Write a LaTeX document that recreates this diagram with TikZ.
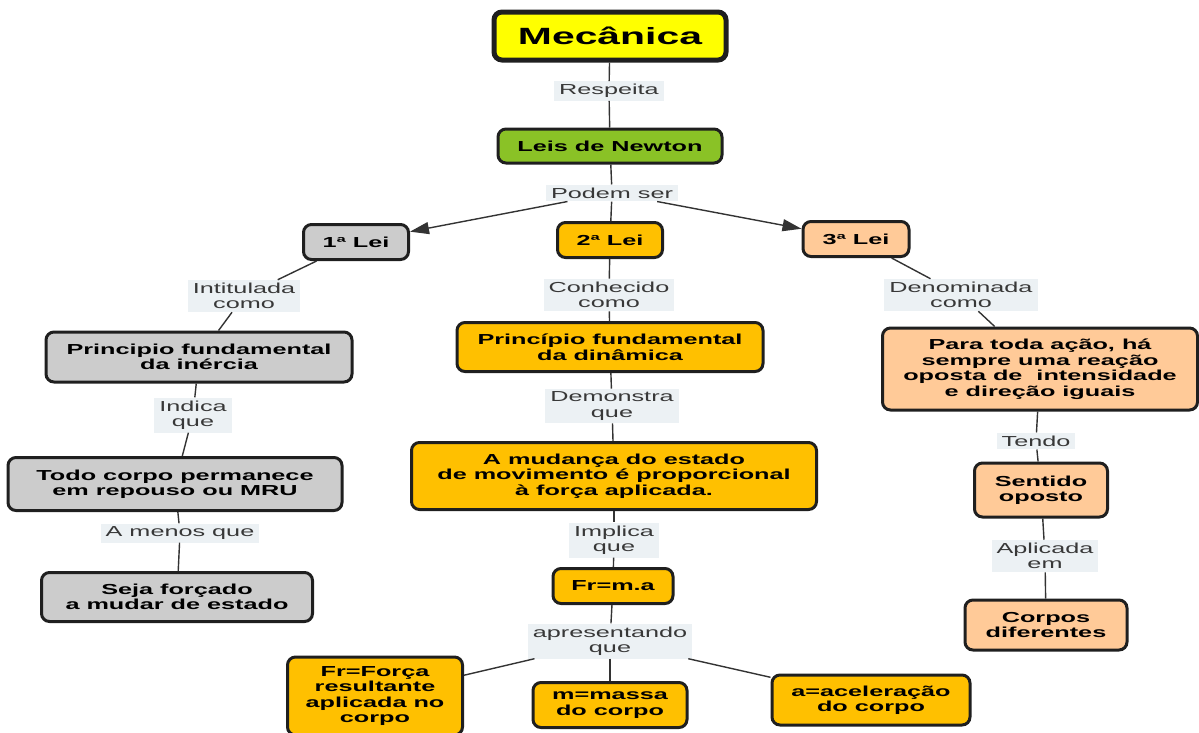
\documentclass[tikz,border=0pt]{standalone}
\usepackage{fontspec}
\setmainfont{Liberation Sans}[FakeStretch=1.74]
\usetikzlibrary{arrows.meta}

\newlength{\du}
\setlength{\du}{1pt}

\definecolor{cmapline}{rgb}{0.120000, 0.120000, 0.120000}
\definecolor{linkline}{rgb}{0.200000, 0.200000, 0.200000}
\definecolor{linktext}{rgb}{0.220000, 0.220000, 0.220000}
\definecolor{linkbg}{rgb}{0.925000, 0.945000, 0.955000}
\definecolor{mecfill}{rgb}{1.000000, 1.000000, 0.000000}
\definecolor{newtonfill}{rgb}{0.541176, 0.760784, 0.149020}
\definecolor{grayfill}{rgb}{0.800000, 0.800000, 0.800000}
\definecolor{goldfill}{rgb}{1.000000, 0.752941, 0.000000}
\definecolor{peachfill}{rgb}{1.000000, 0.792157, 0.596078}

\tikzset{
  concept/.style={draw=cmapline, line width=3\du, rounded corners=8\du, align=center,
    inner sep=0pt, text=black, font=\fontsize{14.5}{15.5}\selectfont\bfseries},
  linkword/.style={fill=linkbg, align=center, text=linktext, inner xsep=5\du, inner ysep=3\du,
    font=\fontsize{14.5}{15.5}\selectfont},
  link/.style={draw=linkline, line width=1.4\du},
  linkarrow/.style={link, -{Triangle[length=19pt, width=12pt]}}
}

\begin{document}
\begin{tikzpicture}
\pgftransformyscale{-1.000000}
\clip (0\du,0\du) rectangle (1199\du,732\du);
% concepts
\node[concept, fill=mecfill, line width=5\du, font=\fontsize{23.5}{25}\selectfont\bfseries,
  minimum width=232\du, minimum height=48\du] (mecanica) at (610\du,36\du){Mecânica};
\node[concept, fill=newtonfill, minimum width=224\du, minimum height=34\du] (leis) at (610\du,146\du){Leis de Newton};
\node[concept, fill=grayfill, minimum width=105\du, minimum height=35\du] (lei1) at (356\du,242\du){1ª Lei};
\node[concept, fill=goldfill, minimum width=105\du, minimum height=35\du] (lei2) at (610\du,240\du){2ª Lei};
\node[concept, fill=peachfill, minimum width=106\du, minimum height=35\du] (lei3) at (856\du,239\du){3ª Lei};
\node[concept, fill=grayfill, minimum width=306\du, minimum height=50\du] (inercia) at (199\du,357\du){Principio fundamental\\da inércia};
\node[concept, fill=goldfill, minimum width=306\du, minimum height=49\du] (dinamica) at (610\du,347\du){Princípio fundamental\\da dinâmica};
\node[concept, fill=peachfill, minimum width=315\du, minimum height=82\du] (reacao) at (1040\du,369\du){Para toda ação, há\\sempre uma reação\\oposta de \ intensidade\\e direção iguais};
\node[concept, fill=grayfill, minimum width=334\du, minimum height=53\du] (repouso) at (175\du,484\du){Todo corpo permanece\\em repouso ou MRU};
\node[concept, fill=goldfill, minimum width=405\du, minimum height=67\du] (mudanca) at (614\du,476\du){A mudança do estado\\de movimento é proporcional\\à força aplicada.};
\node[concept, fill=peachfill, minimum width=133\du, minimum height=54\du] (sentido) at (1041\du,490\du){Sentido\\oposto};
\node[concept, fill=grayfill, minimum width=271\du, minimum height=49\du] (forcado) at (177\du,597\du){Seja forçado\\a mudar de estado};
\node[concept, fill=goldfill, minimum width=120\du, minimum height=35\du] (frma) at (613\du,586\du){Fr=m.a};
\node[concept, fill=peachfill, minimum width=162\du, minimum height=50\du] (corpos) at (1046\du,625\du){Corpos\\diferentes};
\node[concept, fill=goldfill, minimum width=175\du, minimum height=78\du] (forca) at (375\du,696\du){Fr=Força\\resultante\\aplicada no\\corpo};
\node[concept, fill=goldfill, minimum width=154\du, minimum height=45\du] (massa) at (610\du,705\du){m=massa\\do corpo};
\node[concept, fill=goldfill, minimum width=198\du, minimum height=50\du] (aceleracao) at (871\du,700\du){a=aceleração\\do corpo};
% linking phrases
\node[linkword] (respeita) at (609\du,91\du){Respeita};
\node[linkword] (podem) at (612\du,193\du){Podem ser};
\node[linkword] (intitulada) at (244\du,296\du){Intitulada\\como};
\node[linkword] (conhecido) at (609\du,295\du){Conhecido\\como};
\node[linkword] (denominada) at (961\du,295\du){Denominada\\como};
\node[linkword] (indica) at (193\du,415\du){Indica\\que};
\node[linkword] (demonstra) at (612\du,406\du){Demonstra\\que};
\node[linkword] (tendo) at (1036\du,441\du){Tendo};
\node[linkword] (amenos) at (180\du,533\du){A menos que};
\node[linkword] (implica) at (614\du,540\du){Implica\\que};
\node[linkword] (aplicada) at (1045\du,556\du){Aplicada\\em};
\node[linkword] (apresentando) at (610\du,641\du){apresentando\\que};
% connections
\draw[link] (mecanica) -- (respeita);
\draw[link] (respeita) -- (leis);
\draw[link] (leis) -- (podem);
\draw[linkarrow] (podem) -- (lei1);
\draw[link] (podem) -- (lei2);
\draw[linkarrow] (podem) -- (lei3);
\draw[link] (lei1) -- (intitulada);
\draw[link] (intitulada) -- (inercia);
\draw[link] (lei2) -- (conhecido);
\draw[link] (conhecido) -- (dinamica);
\draw[link] (lei3) -- (denominada);
\draw[link] (denominada) -- (reacao);
\draw[link] (inercia) -- (indica);
\draw[link] (indica) -- (repouso);
\draw[link] (repouso) -- (amenos);
\draw[link] (amenos) -- (forcado);
\draw[link] (dinamica) -- (demonstra);
\draw[link] (demonstra) -- (mudanca);
\draw[link] (mudanca) -- (implica);
\draw[link] (implica) -- (frma);
\draw[link] (frma) -- (apresentando);
\draw[link] (apresentando) -- (forca);
\draw[link] (apresentando) -- (massa);
\draw[link] (apresentando) -- (aceleracao);
\draw[link] (reacao) -- (tendo);
\draw[link] (tendo) -- (sentido);
\draw[link] (sentido) -- (aplicada);
\draw[link] (aplicada) -- (corpos);
\end{tikzpicture}
\end{document}
